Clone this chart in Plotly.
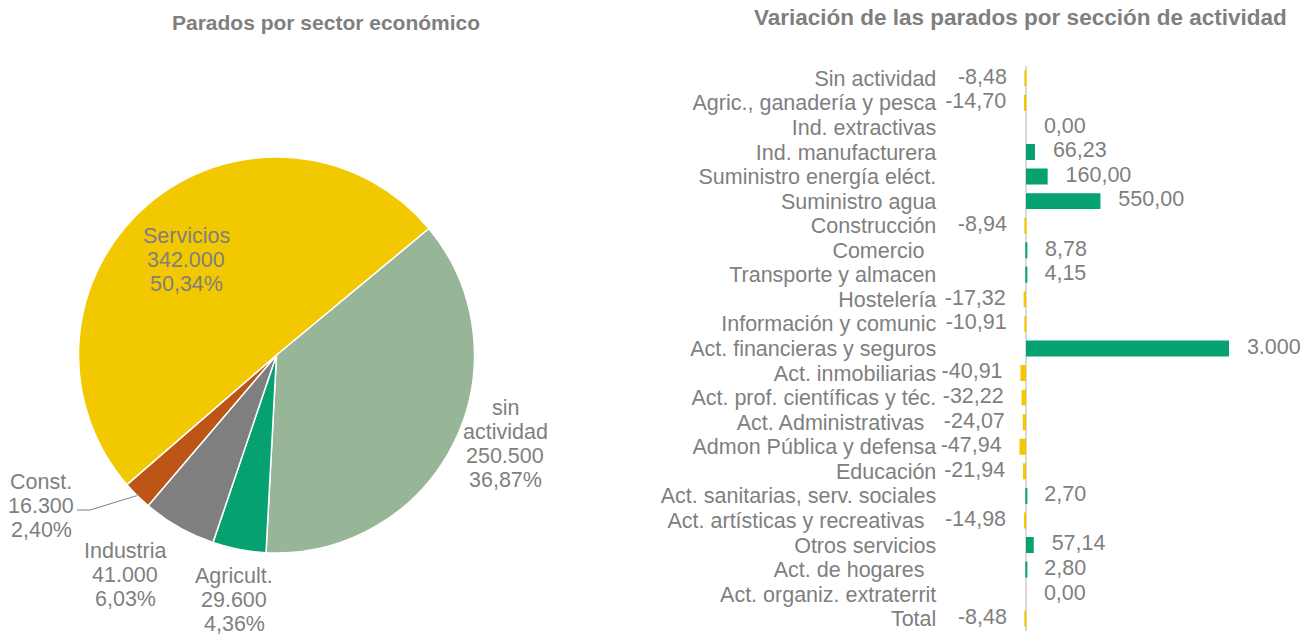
import math
import plotly.graph_objects as go

W, H = 1309, 635

# ---- Pie data ----
pie_labels = ["sin actividad", "Agricult.", "Industria", "Const.", "Servicios"]
pie_name_lines = [["sin", "actividad"], ["Agricult."], ["Industria"], ["Const."], ["Servicios"]]
pie_values = [250500, 29600, 41000, 16300, 342000]
pie_colors = ["#97B597", "#06A170", "#7F7F7F", "#BC5516", "#F2C800"]

# ---- Bar data ----
categories = [
    "Sin actividad", "Agric., ganadería y pesca", "Ind. extractivas", "Ind. manufacturera",
    "Suministro energía eléct.", "Suministro agua", "Construcción", "Comercio\u00a0\u00a0",
    "Transporte y almacen", "Hostelería", "Información y comunic", "Act. financieras y seguros",
    "Act. inmobiliarias", "Act. prof. científicas y téc.", "Act. Administrativas\u00a0\u00a0",
    "Admon Pública y defensa", "Educación", "Act. sanitarias, serv. sociales",
    "Act. artísticas y recreativas\u00a0\u00a0", "Otros servicios", "Act. de hogares\u00a0\u00a0",
    "Act. organiz. extraterrit", "Total",
]
variation = [-8.48, -14.70, 0.00, 66.23, 160.00, 550.00, -8.94, 8.78, 4.15, -17.32, -10.91,
             3000.0, -40.91, -32.22, -24.07, -47.94, -21.94, 2.70, -14.98, 57.14, 2.80, 0.00, -8.48]

X_MIN, X_MAX = -500, 1500

GRAY = "#7F7F7F"
FONT = "Liberation Sans, Arial, sans-serif"
NB = "\u00a0"


def fmt_thousands(v):
    return f"{v:,.0f}".replace(",", ".")


def fmt_dec(v):
    if abs(v) >= 1000:
        return fmt_thousands(v)
    return f"{v:.2f}".replace(".", ",")


def fmt_pct(p):
    return f"{p:.2f}".replace(".", ",") + "%"


total = sum(pie_values)

fig = go.Figure()

# ---- pie geometry (layout, pixels) ----
cx, cy, r = 276.5, 355, 198
ROT = 50.3  # start angle of first slice, degrees clockwise from 12 o'clock

fig.add_trace(go.Pie(
    labels=pie_labels,
    values=pie_values,
    textinfo="none",
    sort=False,
    direction="clockwise",
    rotation=ROT,
    marker=dict(colors=pie_colors, line=dict(color="white", width=1.5)),
    domain=dict(x=[(cx - r) / W, (cx + r) / W], y=[(H - cy - r) / H, (H - cy + r) / H]),
    showlegend=False,
    hoverinfo="label+value+percent",
))

# label block placement (layout: centre x, first-line y in pixels)
pie_label_pos = [(505, 408), (234, 576), (125, 551), (41, 482), (186, 236)]
LINE_H = 24

annotations = []
for names, v, (lx, ly) in zip(pie_name_lines, pie_values, pie_label_pos):
    lines = names + [fmt_thousands(v), fmt_pct(100 * v / total)]
    for i, t in enumerate(lines):
        annotations.append(dict(
            text=t, x=lx / W, y=1 - (ly + i * LINE_H) / H, xref="paper", yref="paper",
            xanchor="center", yanchor="middle", showarrow=False,
            font=dict(family=FONT, size=21.5, color=GRAY),
        ))

# leader line for Const. slice, starting at the slice's outer edge mid-angle
cum = 0
mids = []
for v in pie_values:
    mids.append(ROT + 360 * (cum + v / 2) / total)
    cum += v
ci = pie_labels.index("Const.")
th = math.radians(mids[ci])
ex, ey = cx + r * math.sin(th), cy - r * math.cos(th)
lead_pts = [(ex, ey), (90, 510), (77, 510)]
path = "M " + " L ".join(f"{px / W:.5f},{1 - py / H:.5f}" for px, py in lead_pts)
shapes = [dict(type="path", path=path, xref="paper", yref="paper",
               line=dict(color="#7F7F7F", width=1))]

# ---- bars ----
bar_x = [min(v, X_MAX) for v in variation]
bar_colors = ["#06A170" if v >= 0 else "#F2C800" for v in variation]

fig.add_trace(go.Bar(
    x=bar_x,
    y=categories,
    orientation="h",
    marker=dict(color=bar_colors, line=dict(width=0)),
    xaxis="x", yaxis="y",
    showlegend=False,
    hovertext=[fmt_dec(v) for v in variation],
    hoverinfo="y+text",
))

lab_text = [(NB * 3 + fmt_dec(v)) if v >= 0 else (fmt_dec(v) + NB * 3) for v in variation]
lab_pos = ["middle right" if v >= 0 else "middle left" for v in variation]
fig.add_trace(go.Scatter(
    x=bar_x, y=categories, mode="text",
    text=lab_text, textposition=lab_pos,
    textfont=dict(family=FONT, size=21.5, color=GRAY),
    cliponaxis=False, showlegend=False, hoverinfo="skip",
    xaxis="x", yaxis="y",
))

zero_px = 1026
px_per_unit = (1229 - zero_px) / X_MAX
left_px = zero_px + X_MIN * px_per_unit

annotations += [
    dict(text="<b>Parados por sector económico</b>", x=326 / W, y=1 - 22 / H,
         xref="paper", yref="paper", showarrow=False, xanchor="center", yanchor="middle",
         font=dict(family=FONT, size=21, color=GRAY)),
    dict(text="<b>Variación de las parados por sección de actividad</b>", x=1020 / W, y=1 - 17 / H,
         xref="paper", yref="paper", showarrow=False, xanchor="center", yanchor="middle",
         font=dict(family=FONT, size=22.5, color=GRAY)),
]

n = len(categories)
fig.update_layout(
    width=W, height=H,
    margin=dict(l=0, r=0, t=0, b=0),
    paper_bgcolor="white", plot_bgcolor="white",
    font=dict(family=FONT, color=GRAY),
    bargap=0.35,
    xaxis=dict(
        domain=[left_px / W, 1229 / W], range=[X_MIN, X_MAX],
        showgrid=False, showticklabels=False, ticks="",
        zeroline=True, zerolinecolor="#D9D9D9", zerolinewidth=1.5,
        fixedrange=True,
    ),
    yaxis=dict(
        domain=[(H - 631) / H, (H - 66) / H],
        range=[n - 0.5, -0.5], showgrid=False, zeroline=False,
        tickmode="array", tickvals=categories, ticktext=categories,
        ticks="", ticklabelstandoff=21,
        tickfont=dict(family=FONT, size=21.5, color=GRAY),
        fixedrange=True,
    ),
    annotations=annotations,
    shapes=shapes,
)

fig.write_html(
    "out.html",
    config={"displayModeBar": False},
    post_script="document.body.style.margin='0';document.body.style.overflow='hidden';",
)
